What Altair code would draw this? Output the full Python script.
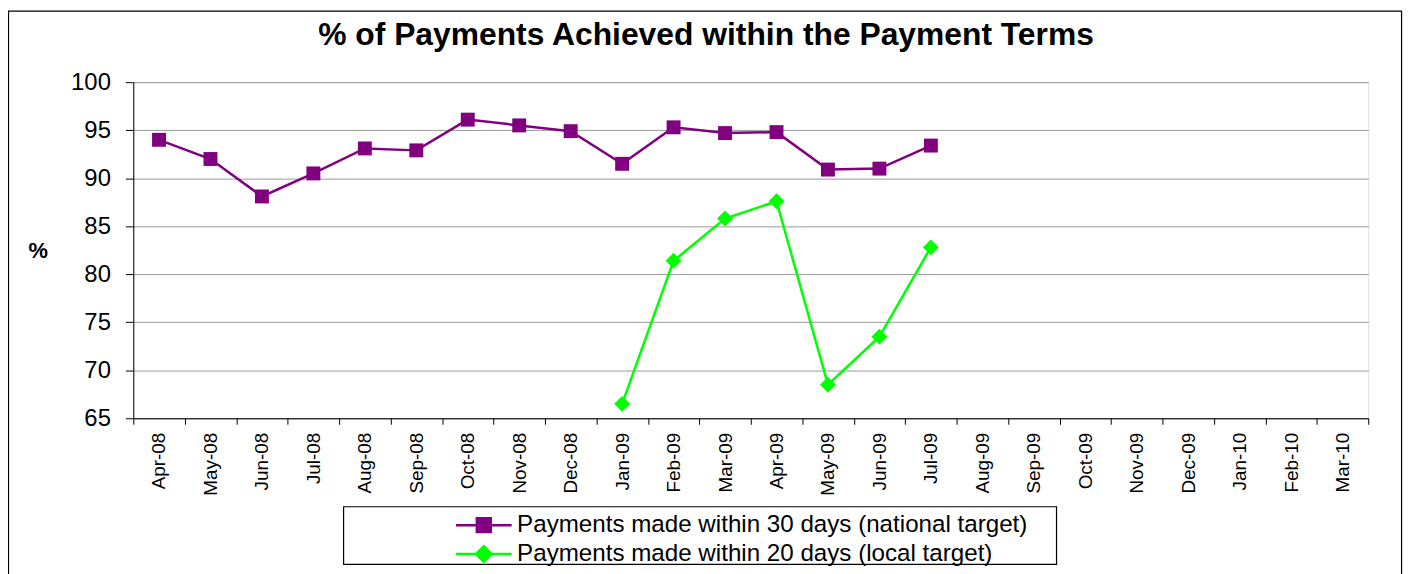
import altair as alt
import pandas as pd

months = ["Apr-08", "May-08", "Jun-08", "Jul-08", "Aug-08", "Sep-08", "Oct-08", "Nov-08",
          "Dec-08", "Jan-09", "Feb-09", "Mar-09", "Apr-09", "May-09", "Jun-09", "Jul-09",
          "Aug-09", "Sep-09", "Oct-09", "Nov-09", "Dec-09", "Jan-10", "Feb-10", "Mar-10"]

series_names = ["Payments made within 30 days (national target)",
                "Payments made within 20 days (local target)"]

national_months = months[:16]
national_values = [94.0, 92.0, 88.1, 90.5, 93.1, 92.9, 96.1, 95.5,
                   94.9, 91.5, 95.3, 94.7, 94.8, 90.9, 91.0, 93.4]

local_months = ["Jan-09", "Feb-09", "Mar-09", "Apr-09", "May-09", "Jun-09", "Jul-09"]
local_values = [66.5, 81.4, 85.8, 87.6, 68.5, 73.5, 82.8]

y_ticks = [65, 70, 75, 80, 85, 90, 95, 100]
colors = ["#800080", "#00FF00"]

rows = [{"month": m, "series": series_names[0], "value": v} for m, v in zip(national_months, national_values)]
rows += [{"month": m, "series": series_names[1], "value": v} for m, v in zip(local_months, local_values)]
df = pd.DataFrame(rows)

FONT = "Liberation Sans, Arial, sans-serif"

x_enc = alt.X("month:N", sort=months,
              scale=alt.Scale(type="band", domain=months, paddingInner=0, paddingOuter=0),
              axis=alt.Axis(title=None, labelAngle=-90, labelFontSize=19, labelColor="black",
                            labelPadding=8, tickSize=6, tickColor="black", domainColor="black",
                            tickBand="extent", grid=False, labelOverlap=False, labelFont=FONT))
y_enc = alt.Y("value:Q",
              scale=alt.Scale(domain=[65, 100], nice=False, zero=False),
              axis=alt.Axis(title="%", values=y_ticks, labelFontSize=24, labelColor="black",
                            labelPadding=15, tickSize=8, tickColor="black", domainColor="black",
                            gridColor="#999999", titleAngle=0, titleFontSize=22, titleFontWeight="bold",
                            titleX=-96, titleY=169, titleAlign="center", titleBaseline="middle",
                            titleColor="black", labelFont=FONT, titleFont=FONT))

sq = "M-1,0H1M-0.25,-0.25H0.25V0.25H-0.25Z"
dm = "M-1,0H1M0,-0.28L0.28,0L0,0.28L-0.28,0Z"
shape_sig = "datum.value === '" + series_names[0] + "' ? '" + sq + "' : '" + dm + "'"
color_sig = "datum.value === '" + series_names[0] + "' ? '" + colors[0] + "' : '" + colors[1] + "'"

color_enc = alt.Color("series:N",
                      scale=alt.Scale(domain=series_names, range=colors),
                      legend=alt.Legend(orient="none", legendX=323, legendY=431, title=None,
                                        labelFontSize=24.3, labelColor="black", labelFont=FONT,
                                        labelLimit=800,
                                        symbolSize=3136, symbolStrokeWidth=2.5, labelOffset=4,
                                        rowPadding=0, clipHeight=29, padding=0,
                                        symbolType=alt.ExprRef(expr=shape_sig),
                                        symbolFillColor=alt.ExprRef(expr=color_sig),
                                        symbolStrokeColor=alt.ExprRef(expr=color_sig),
                                        symbolOpacity=1))

lines = alt.Chart(df).mark_line(strokeWidth=2.5).encode(
    x=x_enc, y=y_enc, color=color_enc, detail="series:N")

marker_shapes = ["square", "diamond"]
marker_sizes = [196, 256]
point_layers = []
for name, col, shp, sz in zip(series_names, colors, marker_shapes, marker_sizes):
    point_layers.append(
        alt.Chart(df).transform_filter(alt.datum.series == name)
        .mark_point(filled=True, opacity=1, color=col, shape=shp, size=sz)
        .encode(x=x_enc, y=y_enc))

frame_df = pd.DataFrame({"k": [0]})
outer_frame = alt.Chart(frame_df).mark_rect(fillOpacity=0, stroke="black", strokeWidth=1.2, clip=False).encode(
    x=alt.value(-125.5), x2=alt.value(1275.5), y=alt.value(-71.5), y2=alt.value(540))
legend_frame = alt.Chart(frame_df).mark_rect(fillOpacity=0, stroke="black", strokeWidth=1.2, clip=False).encode(
    x=alt.value(211.5), x2=alt.value(928.5), y=alt.value(427), y2=alt.value(485))

chart = alt.layer(outer_frame, legend_frame, lines, *point_layers).properties(
    width=1242, height=338,
    padding={"left": 126, "top": 73, "right": 44, "bottom": 155},
    autosize=alt.AutoSizeParams(type="none"),
    title=alt.TitleParams("% of Payments Achieved within the Payment Terms", fontSize=32,
                          fontWeight="bold", font=FONT, color="black", anchor="middle",
                          dx=-45, offset=-67, baseline="alphabetic"),
    background="white",
).configure_view(stroke="#808080", strokeWidth=1.2).configure(font=FONT)

chart.save("out.html", embed_options={"renderer": "svg", "actions": False})
